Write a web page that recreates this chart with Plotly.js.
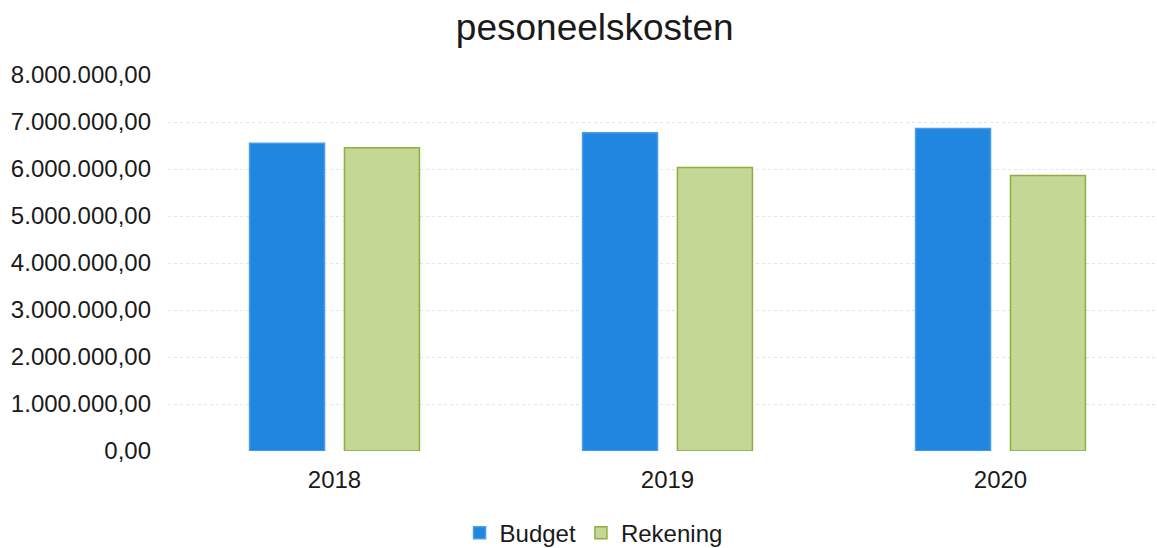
<!DOCTYPE html>
<html>
<head>
<meta charset="utf-8">
<script src="https://cdn.plot.ly/plotly-3.0.1.min.js"></script>
<style>html,body{margin:0;padding:0;background:#fff;}#chart{width:1157px;height:548px;}</style>
</head>
<body>
<div id="chart"></div>
<script>
var years = ['2018', '2019', '2020'];
var budget = [6550000, 6770000, 6860000];
var rekening = [6450000, 6030000, 5860000];
var yTicks = [0, 1000000, 2000000, 3000000, 4000000, 5000000, 6000000, 7000000, 8000000];

var traces = [
  {type: 'bar', name: 'Budget', x: years, y: budget,
   marker: {color: '#2186e0', line: {color: '#4a9bea', width: 1.5}}},
  {type: 'bar', name: 'Rekening', x: years, y: rekening,
   marker: {color: '#c5d794', line: {color: '#8fae3e', width: 1.5}}}
];

var layout = {
  width: 1157, height: 548,
  paper_bgcolor: '#ffffff', plot_bgcolor: '#ffffff',
  separators: ',.',
  font: {family: 'Liberation Sans, Arial, sans-serif', color: '#1a1a1a', size: 24},
  title: {text: 'pesoneelskosten', font: {size: 37, color: '#1a1a1a'},
          xref: 'container', x: 0.514, xanchor: 'center', yref: 'container', y: 0.95, yanchor: 'middle'},
  margin: {l: 168, r: 0, t: 75, b: 97},
  barmode: 'group', bargap: 0.43, bargroupgap: 0.21,
  xaxis: {type: 'category', range: [-0.5, 2.47], showgrid: false, showline: false, zeroline: false,
          ticks: '', ticklabelstandoff: 12, tickfont: {size: 24}},
  yaxis: {range: [0, 8000000], tickvals: yTicks, tickformat: ',.2f', showline: false, zeroline: false,
          showgrid: true, gridcolor: '#e4e4e4', griddash: 'dot', gridwidth: 1,
          ticks: '', ticklabelstandoff: 16, tickfont: {size: 24}},
  showlegend: true,
  legend: {orientation: 'h', xref: 'container', x: 0.513, xanchor: 'center', yref: 'container', y: 0.027, yanchor: 'middle',
           font: {size: 24}, itemwidth: 30, traceorder: 'normal'}
};

Plotly.newPlot('chart', traces, layout, {displayModeBar: false, staticPlot: true});
</script>
</body>
</html>
